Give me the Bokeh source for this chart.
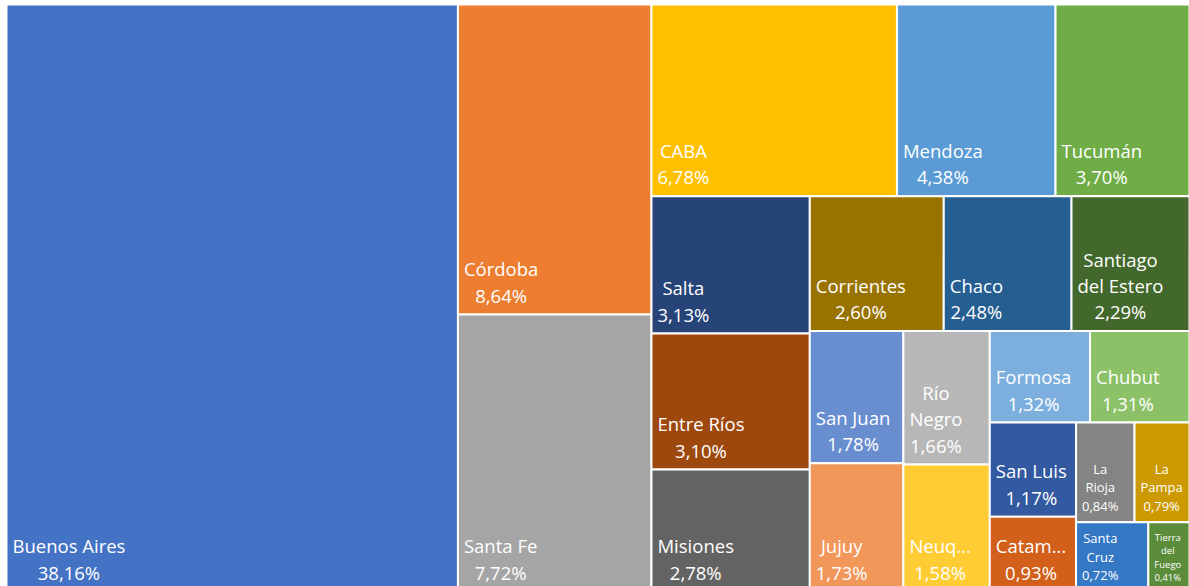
from bokeh.plotting import figure
from bokeh.models import Range1d, ColumnDataSource
from bokeh.embed import file_html
from bokeh.resources import INLINE
from bokeh.core.properties import value

provinces = ["Buenos Aires", "Córdoba", "Santa Fe", "CABA", "Mendoza", "Tucumán",
             "Salta", "Entre Ríos", "Misiones", "Corrientes", "Chaco", "Santiago del Estero",
             "San Juan", "Jujuy", "Río Negro", "Neuquén", "Formosa", "Chubut",
             "San Luis", "Catamarca", "La Rioja", "La Pampa", "Santa Cruz", "Tierra del Fuego"]
shares = [38.16, 8.64, 7.72, 6.78, 4.38, 3.70,
          3.13, 3.10, 2.78, 2.60, 2.48, 2.29,
          1.78, 1.73, 1.66, 1.58, 1.32, 1.31,
          1.17, 0.93, 0.84, 0.79, 0.72, 0.41]
# labels as displayed in the cells (wrapped / truncated like the original)
display_names = ["Buenos Aires", "Córdoba", "Santa Fe", "CABA", "Mendoza", "Tucumán",
                 "Salta", "Entre Ríos", "Misiones", "Corrientes", "Chaco", "Santiago\ndel Estero",
                 "San Juan", "Jujuy", "Río\nNegro", "Neuq...", "Formosa", "Chubut",
                 "San Luis", "Catam...", "La\nRioja", "La\nPampa", "Santa\nCruz", "Tierra\ndel\nFuego"]
colors = ["#4472C4", "#ED7D31", "#A5A5A5", "#FFC000", "#5B9BD5", "#70AD47",
          "#264478", "#9E480E", "#636363", "#997300", "#255E91", "#43682B",
          "#698ED0", "#F1975A", "#B7B7B7", "#FFCD33", "#7CAFDD", "#8CC168",
          "#335AA1", "#D2601A", "#848484", "#CC9A00", "#3478C6", "#5A8C3A"]

W_PX, H_PX = 1189, 586
X0, Y0, TW, TH = 6.0, 4.0, 1183.0, 587.0


def worst(row, side):
    s = sum(row)
    thick = s / side
    r = 0
    for a in row:
        l = a / thick
        r = max(r, l / thick, thick / l)
    return r


def squarify(areas, x, y, w, h, tol=0.99):
    rects = []
    i, n = 0, len(areas)
    while i < n:
        vertical = w >= h
        side = h if vertical else w
        row = [areas[i]]
        j = i + 1
        while j < n:
            cand = row + [areas[j]]
            if worst(cand, side) < worst(row, side) * tol:
                row = cand
                j += 1
            else:
                break
        thick = sum(row) / side
        off = 0.0
        for a in row:
            l = a / thick
            if vertical:
                rects.append((x, y + off, thick, l))
            else:
                rects.append((x + off, y, l, thick))
            off += l
        if vertical:
            x += thick
            w -= thick
        else:
            y += thick
            h -= thick
        i = j
    return rects


total = sum(shares)
areas = [v / total * TW * TH for v in shares]
rects = squarify(areas, X0, Y0, TW, TH)

left = [r[0] for r in rects]
right = [r[0] + r[2] for r in rects]
top = [r[1] for r in rects]
bottom = [r[1] + r[3] for r in rects]
widths = [r[2] for r in rects]

texts = [n + "\n" + f"{v:.2f}".replace(".", ",") + "%" for n, v in zip(display_names, shares)]


def font_for(w):
    if w >= 80:
        return "18.5px"
    if w >= 50:
        return "13px"
    return "9.5px"


src = ColumnDataSource(dict(left=left, right=right, top=top, bottom=bottom, color=colors,
                            tx=[l + 6 for l in left], ty=[b - 7 for b in bottom],
                            text=texts, fs=[font_for(w) for w in widths]))

p = figure(width=W_PX, height=H_PX, output_backend="svg", toolbar_location=None,
           x_range=Range1d(0, W_PX), y_range=Range1d(H_PX, 0), min_border=0)
p.axis.visible = False
p.grid.visible = False
p.outline_line_color = None
p.background_fill_color = "white"
p.border_fill_color = "white"

p.quad(left="left", right="right", top="top", bottom="bottom", source=src,
       fill_color="color", line_color="white", line_width=2)
p.text(x="tx", y="ty", text="text", source=src, anchor="bottom_left", text_align="center",
       text_color="white", text_font=value("Open Sans"), text_font_size="fs",
       text_line_height=1.05)

open("out.html", "w").write(file_html(p, INLINE))
